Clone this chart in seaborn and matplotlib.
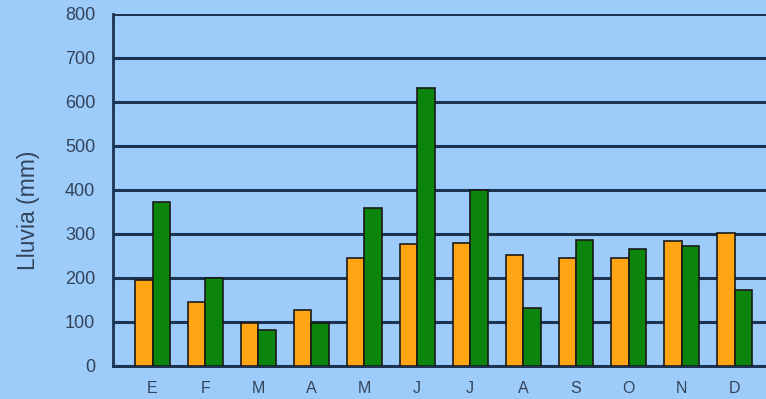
import pandas as pd
import matplotlib.pyplot as plt
import seaborn as sns

# meses y lluvia (mm) de las dos series
meses = ["E", "F", "M", "A", "M ", "J", "J ", "A ", "S", "O", "N", "D"]
etiquetas = ["E", "F", "M", "A", "M", "J", "J", "A", "S", "O", "N", "D"]
serie_naranja = [195, 146, 97, 127, 245, 277, 280, 253, 245, 245, 283, 302]
serie_verde = [372, 200, 82, 98, 360, 632, 400, 132, 286, 266, 272, 172]

df = pd.DataFrame({
    "mes": meses * 2,
    "lluvia": serie_naranja + serie_verde,
    "serie": ["a"] * 12 + ["b"] * 12,
})

fondo = "#9DCBFA"
texto = "#33445a"
sns.set_style("white")
plt.rcParams["font.family"] = ["Liberation Sans", "DejaVu Sans"]

fig = plt.figure(figsize=(7.66, 3.99), dpi=100, facecolor=fondo)
ax = fig.add_axes([0.148, 0.083, 0.852, 0.882])
ax.set_facecolor(fondo)

sns.barplot(data=df, x="mes", y="lluvia", hue="serie", order=meses,
            palette={"a": "#FFA514", "b": "#0B850B"}, saturation=1,
            width=0.66, gap=0, edgecolor="#1a1a1a", linewidth=1.2,
            legend=False, ax=ax, zorder=3)

ax.set_ylim(0, 800)
ax.set_xlim(-0.74, 11.59)
ax.set_yticks(range(0, 801, 100))
ax.set_xticks(range(12))
ax.set_xticklabels(etiquetas)
ax.yaxis.grid(True, color="#1C3352", linewidth=2.2, zorder=1)
ax.set_axisbelow(True)

for s in ["top", "right"]:
    ax.spines[s].set_visible(False)
ax.spines["left"].set_color("#1C3352")
ax.spines["left"].set_linewidth(2)
ax.spines["bottom"].set_color("#1C3352")
ax.spines["bottom"].set_linewidth(2.2)

ax.tick_params(axis="y", length=4, width=1.5, color="#1C3352", labelsize=13,
               labelcolor=texto, pad=9)
ax.tick_params(axis="x", length=0, labelsize=11.5, labelcolor=texto, pad=11)
ax.set_xlabel("")
ax.set_ylabel("Lluvia (mm)", fontsize=16.5, color=texto)
ax.yaxis.set_label_coords(-0.113, 0.443)

fig.savefig("out.png", dpi=100, facecolor=fondo)
